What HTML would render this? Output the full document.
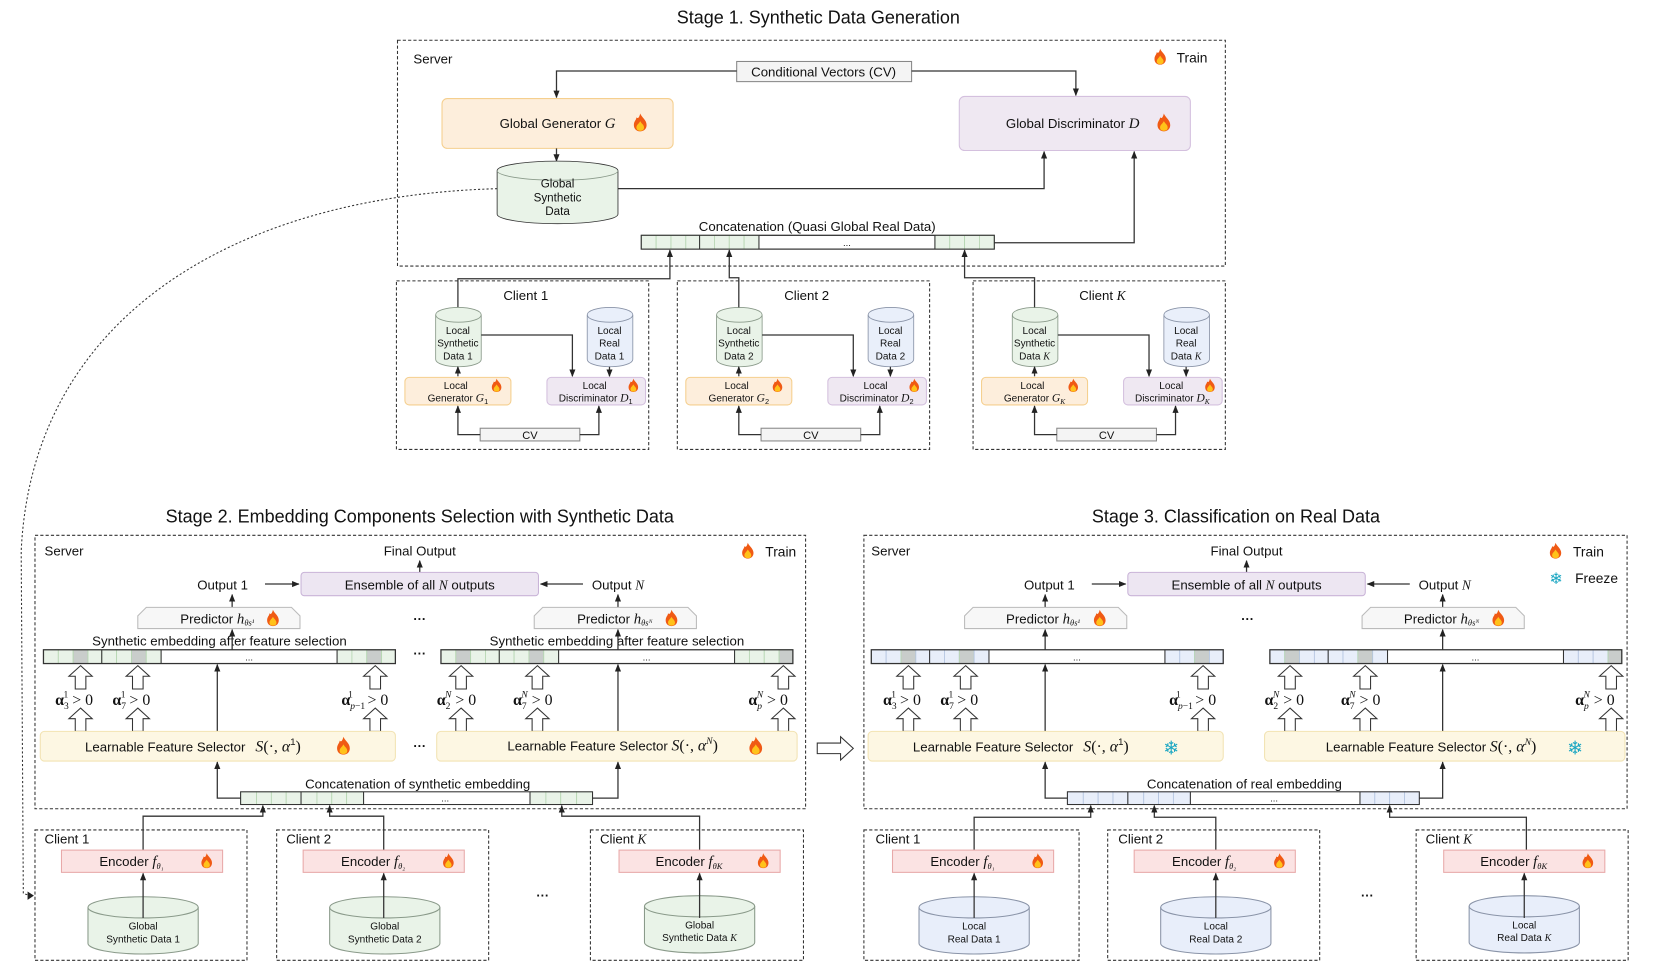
<!DOCTYPE html>
<html><head><meta charset="utf-8">
<style>
html,body{margin:0;padding:0;background:#fff;}
svg{display:block;}
text{font-family:"Liberation Sans",sans-serif;fill:#111;}
.t{font-size:17px;text-anchor:middle;}
.l{font-size:12.5px;}
.c{text-anchor:middle;}
.s{font-size:9.5px;}
.m{font-family:"Liberation Serif",serif;font-style:italic;}
.b{fill:none;stroke:#333;stroke-width:1;stroke-dasharray:3,2;}
.ln{fill:none;stroke:#333;stroke-width:1.2;}
.g{fill:#e9f3e8;stroke:#333;stroke-width:.8;}
.gc{fill:#e9f3e8;stroke:#b6d6b2;stroke-width:.8;}
.bc{fill:#e8eefa;stroke:#b4c4e0;stroke-width:.8;}
.gr{fill:#c9cdcb;stroke:#b6d6b2;stroke-width:.8;}
.ha{fill:#fff;stroke:#333;stroke-width:1;}
</style></head><body>
<svg width="1661" height="972" viewBox="0 0 1567 917" preserveAspectRatio="none" xmlns="http://www.w3.org/2000/svg">
<defs>
<marker id="ar" viewBox="0 0 10 10" refX="9" refY="5" markerWidth="6" markerHeight="6" orient="auto-start-reverse"><path d="M0,1 L10,5 L0,9 z" fill="#222"/></marker>
<symbol id="fire" viewBox="0 0 10 14" overflow="visible"><path d="M5,0 C6,3 10,5 10,9 C10,12 8,14 5,14 C2,14 0,12 0,9 C0,6 2,5 2,3 C3,4 4,4 5,0z" fill="#f05a14"/><path d="M5,6 C6,8 8,9 8,11 C8,13 6.5,13.6 5,13.6 C3.5,13.6 2,13 2,11 C2,9 4,8 5,6z" fill="#ffc21a"/></symbol>
<polygon id="ha" points="0,0 11,10 5,10 5,22 -5,22 -5,10 -11,10" class="ha"/>
</defs>

<!-- ================= STAGE 1 ================= -->
<text x="772" y="22" class="t">Stage 1. Synthetic Data Generation</text>
<rect x="375" y="38" width="781" height="213" class="b"/>
<text x="390" y="60" class="l">Server</text>
<use href="#fire" x="1089" y="46" width="11" height="15"/>
<text x="1110" y="59" class="l" style="font-size:13px">Train</text>
<rect x="695" y="58" width="165" height="19" fill="#f4f4f4" stroke="#888"/>
<text x="777" y="72" class="l c" fill="#333">Conditional Vectors (CV)</text>
<path d="M695,67 H525 V92" class="ln" marker-end="url(#ar)"/>
<path d="M860,67 H1015 V90" class="ln" marker-end="url(#ar)"/>
<rect x="417" y="93" width="218" height="47" rx="5" fill="#fdeedc" stroke="#f5cf8e"/>
<text x="526" y="121" class="l c">Global Generator <tspan class="m" font-size="14">G</tspan></text>
<use href="#fire" x="598" y="107" width="12" height="17"/>
<rect x="905" y="91" width="218" height="51" rx="5" fill="#efe8f2" stroke="#d4c0de"/>
<text x="1012" y="121" class="l c">Global Discriminator <tspan class="m" font-size="14">D</tspan></text>
<use href="#fire" x="1092" y="107" width="12" height="17"/>
<path d="M525,140 V152" class="ln" marker-end="url(#ar)"/>
<path d="M469,161 a57,9 0 0 1 114,0 v41 a57,9 0 0 1 -114,0z" class="g" stroke="#8a9a8a"/>
<path d="M469,161 a57,9 0 0 0 114,0" fill="none" stroke="#8a9a8a" stroke-width=".8"/>
<text x="526" y="177" class="c" font-size="11">Global</text>
<text x="526" y="190" class="c" font-size="11">Synthetic</text>
<text x="526" y="203" class="c" font-size="11">Data</text>
<path d="M583,178 H985 V143" class="ln" marker-end="url(#ar)"/>
<text x="771" y="218" class="l c">Concatenation (Quasi Global Real Data)</text>
<g>
<rect x="605" y="222" width="333" height="13" fill="#fff" stroke="#333"/>
<rect x="605" y="222" width="14" height="13" class="gc"/><rect x="619" y="222" width="14" height="13" class="gc"/><rect x="633" y="222" width="14" height="13" class="gc"/><rect x="647" y="222" width="13" height="13" class="gc"/>
<rect x="660" y="222" width="14" height="13" class="gc"/><rect x="674" y="222" width="14" height="13" class="gc"/><rect x="688" y="222" width="14" height="13" class="gc"/><rect x="702" y="222" width="14" height="13" class="gc"/>
<rect x="882" y="222" width="14" height="13" class="gc"/><rect x="896" y="222" width="14" height="13" class="gc"/><rect x="910" y="222" width="14" height="13" class="gc"/><rect x="924" y="222" width="14" height="13" class="gc"/>
<rect x="605" y="222" width="333" height="13" fill="none" stroke="#333"/>
<path d="M660,222 v13 M716,222 v13 M882,222 v13" stroke="#333"/>
<text x="799" y="232" class="c" font-size="9">...</text>
</g>
<path d="M938,229 H1070 V143" class="ln" marker-end="url(#ar)"/>

<!-- Client blocks stage 1 -->
<g id="c1">
<rect x="374" y="265" width="238" height="159" class="b"/>
<path d="M432,290 V263 H632 V236" class="ln" marker-end="url(#ar)"/>
<path d="M411,297 a21.5,7 0 0 1 43,0 v42 a21.5,7 0 0 1 -43,0z" fill="#e9f3e8" stroke="#8a9a8a" stroke-width=".8"/>
<path d="M411,297 a21.5,7 0 0 0 43,0" fill="none" stroke="#8a9a8a" stroke-width=".8"/>
<text x="432" y="315" class="c s">Local</text><text x="432" y="327" class="c s">Synthetic</text><text x="432" y="339" class="c s">Data 1</text>
<path d="M554,297 a21.5,7 0 0 1 43,0 v42 a21.5,7 0 0 1 -43,0z" fill="#e9effa" stroke="#8a94a8" stroke-width=".8"/>
<path d="M554,297 a21.5,7 0 0 0 43,0" fill="none" stroke="#8a94a8" stroke-width=".8"/>
<text x="575" y="315" class="c s">Local</text><text x="575" y="327" class="c s">Real</text><text x="575" y="339" class="c s">Data 1</text>
<path d="M454,316 H540 V355" class="ln" marker-end="url(#ar)"/>
<path d="M575,346 V355" class="ln" marker-end="url(#ar)"/>
<rect x="382" y="356" width="100" height="26" rx="4" fill="#fdeedc" stroke="#f5cf8e"/>
<text x="430" y="367" class="c s">Local</text><text x="432" y="379" class="c s">Generator <tspan class="m" font-size="11">G</tspan><tspan font-size="7" dy="2">1</tspan></text>
<use href="#fire" x="464" y="357" width="9" height="13"/>
<rect x="516" y="356" width="93" height="26" rx="4" fill="#efe8f2" stroke="#d4c0de"/>
<text x="561" y="367" class="c s">Local</text><text x="562" y="379" class="c s">Discriminator <tspan class="m" font-size="11">D</tspan><tspan font-size="7" dy="2">1</tspan></text>
<use href="#fire" x="593" y="357" width="9" height="13"/>
<path d="M432,355 V346" class="ln" marker-end="url(#ar)"/>
<rect x="453" y="404" width="94" height="12" fill="#f4f4f4" stroke="#888"/>
<text x="500" y="414" class="c" font-size="10.5">CV</text>
<path d="M453,410 H432 V383" class="ln" marker-end="url(#ar)"/>
<path d="M547,410 H565 V383" class="ln" marker-end="url(#ar)"/>
<text x="496" y="283" class="l c">Client 1</text>
</g>
<g transform="translate(265,0)">
<rect x="374" y="265" width="238" height="159" class="b"/>
<path d="M411,297 a21.5,7 0 0 1 43,0 v42 a21.5,7 0 0 1 -43,0z" fill="#e9f3e8" stroke="#8a9a8a" stroke-width=".8"/>
<path d="M411,297 a21.5,7 0 0 0 43,0" fill="none" stroke="#8a9a8a" stroke-width=".8"/>
<text x="432" y="315" class="c s">Local</text><text x="432" y="327" class="c s">Synthetic</text><text x="432" y="339" class="c s">Data 2</text>
<path d="M554,297 a21.5,7 0 0 1 43,0 v42 a21.5,7 0 0 1 -43,0z" fill="#e9effa" stroke="#8a94a8" stroke-width=".8"/>
<path d="M554,297 a21.5,7 0 0 0 43,0" fill="none" stroke="#8a94a8" stroke-width=".8"/>
<text x="575" y="315" class="c s">Local</text><text x="575" y="327" class="c s">Real</text><text x="575" y="339" class="c s">Data 2</text>
<path d="M454,316 H540 V355" class="ln" marker-end="url(#ar)"/>
<path d="M575,346 V355" class="ln" marker-end="url(#ar)"/>
<rect x="382" y="356" width="100" height="26" rx="4" fill="#fdeedc" stroke="#f5cf8e"/>
<text x="430" y="367" class="c s">Local</text><text x="432" y="379" class="c s">Generator <tspan class="m" font-size="11">G</tspan><tspan font-size="7" dy="2">2</tspan></text>
<use href="#fire" x="464" y="357" width="9" height="13"/>
<rect x="516" y="356" width="93" height="26" rx="4" fill="#efe8f2" stroke="#d4c0de"/>
<text x="561" y="367" class="c s">Local</text><text x="562" y="379" class="c s">Discriminator <tspan class="m" font-size="11">D</tspan><tspan font-size="7" dy="2">2</tspan></text>
<use href="#fire" x="593" y="357" width="9" height="13"/>
<path d="M432,355 V346" class="ln" marker-end="url(#ar)"/>
<rect x="453" y="404" width="94" height="12" fill="#f4f4f4" stroke="#888"/>
<text x="500" y="414" class="c" font-size="10.5">CV</text>
<path d="M453,410 H432 V383" class="ln" marker-end="url(#ar)"/>
<path d="M547,410 H565 V383" class="ln" marker-end="url(#ar)"/>
<text x="496" y="283" class="l c">Client 2</text>
</g>
<path d="M697,290 V262 H688 V236" class="ln" marker-end="url(#ar)"/>
<g transform="translate(544,0)">
<rect x="374" y="265" width="238" height="159" class="b"/>
<path d="M411,297 a21.5,7 0 0 1 43,0 v42 a21.5,7 0 0 1 -43,0z" fill="#e9f3e8" stroke="#8a9a8a" stroke-width=".8"/>
<path d="M411,297 a21.5,7 0 0 0 43,0" fill="none" stroke="#8a9a8a" stroke-width=".8"/>
<text x="432" y="315" class="c s">Local</text><text x="432" y="327" class="c s">Synthetic</text><text x="432" y="339" class="c s">Data <tspan class="m">K</tspan></text>
<path d="M554,297 a21.5,7 0 0 1 43,0 v42 a21.5,7 0 0 1 -43,0z" fill="#e9effa" stroke="#8a94a8" stroke-width=".8"/>
<path d="M554,297 a21.5,7 0 0 0 43,0" fill="none" stroke="#8a94a8" stroke-width=".8"/>
<text x="575" y="315" class="c s">Local</text><text x="575" y="327" class="c s">Real</text><text x="575" y="339" class="c s">Data <tspan class="m">K</tspan></text>
<path d="M454,316 H540 V355" class="ln" marker-end="url(#ar)"/>
<path d="M575,346 V355" class="ln" marker-end="url(#ar)"/>
<rect x="382" y="356" width="100" height="26" rx="4" fill="#fdeedc" stroke="#f5cf8e"/>
<text x="430" y="367" class="c s">Local</text><text x="432" y="379" class="c s">Generator <tspan class="m" font-size="11">G</tspan><tspan class="m" font-size="7" dy="2">K</tspan></text>
<use href="#fire" x="464" y="357" width="9" height="13"/>
<rect x="516" y="356" width="93" height="26" rx="4" fill="#efe8f2" stroke="#d4c0de"/>
<text x="561" y="367" class="c s">Local</text><text x="562" y="379" class="c s">Discriminator <tspan class="m" font-size="11">D</tspan><tspan class="m" font-size="7" dy="2">K</tspan></text>
<use href="#fire" x="593" y="357" width="9" height="13"/>
<path d="M432,355 V346" class="ln" marker-end="url(#ar)"/>
<rect x="453" y="404" width="94" height="12" fill="#f4f4f4" stroke="#888"/>
<text x="500" y="414" class="c" font-size="10.5">CV</text>
<path d="M453,410 H432 V383" class="ln" marker-end="url(#ar)"/>
<path d="M547,410 H565 V383" class="ln" marker-end="url(#ar)"/>
<text x="496" y="283" class="l c">Client <tspan class="m">K</tspan></text>
</g>
<path d="M976,290 V262 H910 V236" class="ln" marker-end="url(#ar)"/>

<!-- dotted curve -->
<path d="M469,178 C220,185 30,300 20,520 L22,843 L29,845" fill="none" stroke="#333" stroke-width="1" stroke-dasharray="2,2"/>
<path d="M26,841 L32,845 L26,849z" fill="#222"/>

<!-- ================= STAGE 2 ================= -->
<text x="396" y="493" class="t">Stage 2. Embedding Components Selection with Synthetic Data</text>
<rect x="33" y="505" width="727" height="258" class="b"/>
<text x="42" y="524" class="l">Server</text>
<use href="#fire" x="700" y="512" width="11" height="15"/>
<text x="722" y="525" class="l" style="font-size:13px">Train</text>
<text x="396" y="524" class="l c">Final Output</text>
<path d="M396,540 V529" class="ln" marker-end="url(#ar)"/>
<rect x="284" y="540" width="224" height="22" rx="3" fill="#ede6f2" stroke="#c9b4d8"/>
<text x="396" y="556" class="l c">Ensemble of all <tspan class="m">N</tspan> outputs</text>
<text x="210" y="556" class="l c">Output 1</text>
<path d="M250,551 H282" class="ln" marker-end="url(#ar)"/>
<text x="583" y="556" class="l c">Output <tspan class="m">N</tspan></text>
<path d="M550,551 H510" class="ln" marker-end="url(#ar)"/>
<path d="M219,573 V561" class="ln" marker-end="url(#ar)"/>
<path d="M583,573 V561" class="ln" marker-end="url(#ar)"/>
<path d="M138,573 H275 L283,581 V593 H130 V581z" fill="#f7f7f7" stroke="#bbb"/>
<text x="205" y="588" class="l c">Predictor <tspan class="m" font-size="14">h</tspan><tspan class="m" font-size="8" dy="2">θs¹</tspan></text>
<use href="#fire" x="252" y="575" width="11" height="16"/>
<path d="M512,573 H649 L657,581 V593 H504 V581z" fill="#f7f7f7" stroke="#bbb"/>
<text x="580" y="588" class="l c">Predictor <tspan class="m" font-size="14">h</tspan><tspan class="m" font-size="8" dy="2">θsᴺ</tspan></text>
<use href="#fire" x="628" y="575" width="11" height="16"/>
<text x="396" y="588" class="c" font-weight="bold" font-size="12">···</text>
<text x="207" y="609" class="l c">Synthetic embedding after feature selection</text>
<text x="582" y="609" class="l c">Synthetic embedding after feature selection</text>
<g>
<rect x="41" y="613" width="332" height="13" fill="#fff"/>
<rect x="41" y="613" width="14" height="13" class="gc"/><rect x="55" y="613" width="14" height="13" class="gc"/><rect x="69" y="613" width="14" height="13" class="gr"/><rect x="83" y="613" width="13" height="13" class="gc"/>
<rect x="96" y="613" width="14" height="13" class="gc"/><rect x="110" y="613" width="14" height="13" class="gc"/><rect x="124" y="613" width="14" height="13" class="gr"/><rect x="138" y="613" width="14" height="13" class="gc"/>
<rect x="318" y="613" width="14" height="13" class="gc"/><rect x="332" y="613" width="14" height="13" class="gc"/><rect x="346" y="613" width="14" height="13" class="gr"/><rect x="360" y="613" width="13" height="13" class="gc"/>
<rect x="41" y="613" width="332" height="13" fill="none" stroke="#333" stroke-width="1.2"/>
<path d="M96,613 v13 M152,613 v13 M318,613 v13" stroke="#333"/>
<text x="235" y="623" class="c" font-size="9">...</text>
</g>
<g>
<rect x="416" y="613" width="332" height="13" fill="#fff"/>
<rect x="416" y="613" width="14" height="13" class="gc"/><rect x="430" y="613" width="14" height="13" class="gr"/><rect x="444" y="613" width="14" height="13" class="gc"/><rect x="458" y="613" width="13" height="13" class="gc"/>
<rect x="471" y="613" width="14" height="13" class="gc"/><rect x="485" y="613" width="14" height="13" class="gc"/><rect x="499" y="613" width="14" height="13" class="gr"/><rect x="513" y="613" width="14" height="13" class="gc"/>
<rect x="693" y="613" width="14" height="13" class="gc"/><rect x="707" y="613" width="14" height="13" class="gc"/><rect x="721" y="613" width="14" height="13" class="gc"/><rect x="735" y="613" width="13" height="13" class="gr"/>
<rect x="416" y="613" width="332" height="13" fill="none" stroke="#333" stroke-width="1.2"/>
<path d="M471,613 v13 M527,613 v13 M693,613 v13" stroke="#333"/>
<text x="610" y="623" class="c" font-size="9">...</text>
</g>
<text x="396" y="621" class="c" font-weight="bold" font-size="12">···</text>
<path d="M219,613 V594" class="ln" marker-end="url(#ar)"/>
<path d="M583,613 V594" class="ln" marker-end="url(#ar)"/>
<path d="M205,690 V627" class="ln" marker-end="url(#ar)"/>
<path d="M583,690 V627" class="ln" marker-end="url(#ar)"/>
<use href="#ha" x="76" y="628"/><use href="#ha" x="76" y="668"/>
<use href="#ha" x="130" y="628"/><use href="#ha" x="130" y="668"/>
<use href="#ha" x="354" y="628"/><use href="#ha" x="354" y="668"/>
<use href="#ha" x="435" y="628"/><use href="#ha" x="435" y="668"/>
<use href="#ha" x="507" y="628"/><use href="#ha" x="507" y="668"/>
<use href="#ha" x="739" y="628"/><use href="#ha" x="739" y="668"/>
<g font-size="15">
<text x="52" y="665" style="font-family:'Liberation Serif',serif"><tspan font-weight="bold">α</tspan><tspan font-size="9" dy="4">3</tspan><tspan font-size="9" dx="-5" dy="-11">1</tspan><tspan dy="7"> &gt; 0</tspan></text>
<text x="106" y="665" style="font-family:'Liberation Serif',serif"><tspan font-weight="bold">α</tspan><tspan font-size="9" dy="4">7</tspan><tspan font-size="9" dx="-5" dy="-11">1</tspan><tspan dy="7"> &gt; 0</tspan></text>
<text x="322" y="665" style="font-family:'Liberation Serif',serif"><tspan font-weight="bold">α</tspan><tspan font-size="9" dy="4" font-style="italic">p</tspan><tspan font-size="9" dy="0">−1</tspan><tspan font-size="9" dx="-16" dy="-11">1</tspan><tspan dx="10" dy="7"> &gt; 0</tspan></text>
<text x="412" y="665" style="font-family:'Liberation Serif',serif"><tspan font-weight="bold">α</tspan><tspan font-size="9" dy="4">2</tspan><tspan font-size="9" dx="-5" dy="-11" font-style="italic">N</tspan><tspan dy="7"> &gt; 0</tspan></text>
<text x="484" y="665" style="font-family:'Liberation Serif',serif"><tspan font-weight="bold">α</tspan><tspan font-size="9" dy="4">7</tspan><tspan font-size="9" dx="-5" dy="-11" font-style="italic">N</tspan><tspan dy="7"> &gt; 0</tspan></text>
<text x="706" y="665" style="font-family:'Liberation Serif',serif"><tspan font-weight="bold">α</tspan><tspan font-size="9" dy="4" font-style="italic">p</tspan><tspan font-size="9" dx="-5" dy="-11" font-style="italic">N</tspan><tspan dy="7"> &gt; 0</tspan></text>
</g>
<rect x="38" y="690" width="335" height="28" rx="4" fill="#fdf7e3" stroke="#f2e3b3"/>
<text x="182" y="709" class="l c">Learnable Feature Selector <tspan class="m" font-size="15" dx="6">S</tspan><tspan font-family="Liberation Serif,serif" font-size="15">(·, </tspan><tspan class="m" font-size="15">α</tspan><tspan font-size="9" dy="-6">1</tspan><tspan font-family="Liberation Serif,serif" font-size="15" dy="6">)</tspan></text>
<use href="#fire" x="318" y="695" width="12" height="17"/>
<text x="396" y="708" class="c" font-weight="bold" font-size="12">···</text>
<rect x="412" y="690" width="340" height="28" rx="4" fill="#fdf7e3" stroke="#f2e3b3"/>
<text x="578" y="708" class="l c">Learnable Feature Selector <tspan class="m" font-size="15">S</tspan><tspan font-family="Liberation Serif,serif" font-size="15">(·, </tspan><tspan class="m" font-size="15">α</tspan><tspan class="m" font-size="9" dy="-6">N</tspan><tspan font-family="Liberation Serif,serif" font-size="15" dy="6">)</tspan></text>
<use href="#fire" x="707" y="695" width="12" height="17"/>
<text x="394" y="744" class="l c">Concatenation of synthetic embedding</text>
<g>
<rect x="227" y="747" width="332" height="12" fill="#fff"/>
<rect x="227" y="747" width="15" height="12" class="gc"/><rect x="242" y="747" width="14" height="12" class="gc"/><rect x="256" y="747" width="14" height="12" class="gc"/><rect x="270" y="747" width="14" height="12" class="gc"/>
<rect x="284" y="747" width="15" height="12" class="gc"/><rect x="299" y="747" width="14" height="12" class="gc"/><rect x="313" y="747" width="14" height="12" class="gc"/><rect x="327" y="747" width="16" height="12" class="gc"/>
<rect x="500" y="747" width="15" height="12" class="gc"/><rect x="515" y="747" width="14" height="12" class="gc"/><rect x="529" y="747" width="15" height="12" class="gc"/><rect x="544" y="747" width="15" height="12" class="gc"/>
<rect x="227" y="747" width="332" height="12" fill="none" stroke="#333"/>
<path d="M284,747 v12 M343,747 v12 M500,747 v12" stroke="#333"/>
<text x="420" y="756" class="c" font-size="9">...</text>
</g>
<path d="M227,753 H205 V719" class="ln" marker-end="url(#ar)"/>
<path d="M559,753 H583 V719" class="ln" marker-end="url(#ar)"/>
<rect x="33" y="783" width="200" height="123" class="b"/>
<rect x="261" y="783" width="200" height="123" class="b"/>
<rect x="557" y="783" width="201" height="123" class="b"/>
<text x="42" y="796" class="l">Client 1</text>
<text x="270" y="796" class="l">Client 2</text>
<text x="566" y="796" class="l">Client <tspan class="m">K</tspan></text>
<path d="M135,802 V770 H248 V760" class="ln" marker-end="url(#ar)"/>
<path d="M362,802 V770 H311 V760" class="ln" marker-end="url(#ar)"/>
<path d="M660,802 V770 H530 V760" class="ln" marker-end="url(#ar)"/>
<rect x="58" y="802" width="152" height="21" fill="#fbe3e3" stroke="#e8a9a9"/>
<text x="124" y="817" class="l c">Encoder  <tspan class="m" font-size="14">f</tspan><tspan class="m" font-size="8" dy="3">θ₁</tspan></text>
<use href="#fire" x="190" y="805" width="10" height="14"/>
<rect x="286" y="802" width="152" height="21" fill="#fbe3e3" stroke="#e8a9a9"/>
<text x="352" y="817" class="l c">Encoder  <tspan class="m" font-size="14">f</tspan><tspan class="m" font-size="8" dy="3">θ₂</tspan></text>
<use href="#fire" x="418" y="805" width="10" height="14"/>
<rect x="584" y="802" width="152" height="21" fill="#fbe3e3" stroke="#e8a9a9"/>
<text x="650" y="817" class="l c">Encoder  <tspan class="m" font-size="14">f</tspan><tspan class="m" font-size="8" dy="3">θK</tspan></text>
<use href="#fire" x="715" y="805" width="10" height="14"/>
<text x="512" y="849" class="c" font-weight="bold" font-size="12">···</text>
<g>
<path d="M83,856 a52,10 0 0 1 104,0 v34 a52,10 0 0 1 -104,0z" fill="#e9f3e8" stroke="#8a9a8a"/>
<path d="M83,856 a52,10 0 0 0 104,0" fill="none" stroke="#8a9a8a"/>
<text x="135" y="877" class="c s">Global</text><text x="135" y="889" class="c s">Synthetic Data 1</text>
<path d="M311,856 a52,10 0 0 1 104,0 v34 a52,10 0 0 1 -104,0z" fill="#e9f3e8" stroke="#8a9a8a"/>
<path d="M311,856 a52,10 0 0 0 104,0" fill="none" stroke="#8a9a8a"/>
<text x="363" y="877" class="c s">Global</text><text x="363" y="889" class="c s">Synthetic Data 2</text>
<path d="M608,855 a52,10 0 0 1 104,0 v34 a52,10 0 0 1 -104,0z" fill="#e9f3e8" stroke="#8a9a8a"/>
<path d="M608,855 a52,10 0 0 0 104,0" fill="none" stroke="#8a9a8a"/>
<text x="660" y="876" class="c s">Global</text><text x="660" y="888" class="c s">Synthetic Data <tspan class="m">K</tspan></text>
</g>
<path d="M135,866 V824" class="ln" marker-end="url(#ar)"/>
<path d="M362,866 V824" class="ln" marker-end="url(#ar)"/>
<path d="M660,866 V824" class="ln" marker-end="url(#ar)"/>

<polygon points="771,701 793,701 793,695 805,706 793,717 793,711 771,711" class="ha"/>

<!-- ================= STAGE 3 ================= -->
<text x="1166" y="493" class="t">Stage 3. Classification on Real Data</text>
<rect x="815" y="505" width="720" height="258" class="b"/>
<text x="822" y="524" class="l">Server</text>
<use href="#fire" x="1462" y="512" width="11" height="15"/>
<text x="1484" y="525" class="l" style="font-size:13px">Train</text>
<text x="1468" y="551" class="c" font-size="15" style="fill:#1aa6c2">❄</text>
<text x="1486" y="550" class="l" style="font-size:13px">Freeze</text>
<text x="1176" y="524" class="l c">Final Output</text>
<path d="M1176,540 V529" class="ln" marker-end="url(#ar)"/>
<rect x="1064" y="540" width="224" height="22" rx="3" fill="#ede6f2" stroke="#c9b4d8"/>
<text x="1176" y="556" class="l c">Ensemble of all <tspan class="m">N</tspan> outputs</text>
<text x="990" y="556" class="l c">Output 1</text>
<path d="M1030,551 H1062" class="ln" marker-end="url(#ar)"/>
<text x="1363" y="556" class="l c">Output <tspan class="m">N</tspan></text>
<path d="M1330,551 H1290" class="ln" marker-end="url(#ar)"/>
<path d="M986,573 V561" class="ln" marker-end="url(#ar)"/>
<path d="M1361,573 V561" class="ln" marker-end="url(#ar)"/>
<path d="M918,573 H1055 L1063,581 V593 H910 V581z" fill="#f7f7f7" stroke="#bbb"/>
<text x="984" y="588" class="l c">Predictor <tspan class="m" font-size="14">h</tspan><tspan class="m" font-size="8" dy="2">θs¹</tspan></text>
<use href="#fire" x="1032" y="575" width="11" height="16"/>
<path d="M1293,573 H1430 L1438,581 V593 H1285 V581z" fill="#f7f7f7" stroke="#bbb"/>
<text x="1360" y="588" class="l c">Predictor <tspan class="m" font-size="14">h</tspan><tspan class="m" font-size="8" dy="2">θsᴺ</tspan></text>
<use href="#fire" x="1408" y="575" width="11" height="16"/>
<text x="1177" y="588" class="c" font-weight="bold" font-size="12">···</text>
<g>
<rect x="822" y="613" width="332" height="13" fill="#fff"/>
<rect x="822" y="613" width="14" height="13" class="bc"/><rect x="836" y="613" width="14" height="13" class="bc"/><rect x="850" y="613" width="14" height="13" class="gr" stroke="#b4c4e0"/><rect x="864" y="613" width="13" height="13" class="bc"/>
<rect x="877" y="613" width="14" height="13" class="bc"/><rect x="891" y="613" width="14" height="13" class="bc"/><rect x="905" y="613" width="14" height="13" class="gr"/><rect x="919" y="613" width="14" height="13" class="bc"/>
<rect x="1099" y="613" width="14" height="13" class="bc"/><rect x="1113" y="613" width="14" height="13" class="bc"/><rect x="1127" y="613" width="14" height="13" class="gr"/><rect x="1141" y="613" width="13" height="13" class="bc"/>
<rect x="822" y="613" width="332" height="13" fill="none" stroke="#333" stroke-width="1.2"/>
<path d="M877,613 v13 M933,613 v13 M1099,613 v13" stroke="#333"/>
<text x="1016" y="623" class="c" font-size="9">...</text>
</g>
<g>
<rect x="1198" y="613" width="332" height="13" fill="#fff"/>
<rect x="1198" y="613" width="14" height="13" class="bc"/><rect x="1212" y="613" width="14" height="13" class="gr"/><rect x="1226" y="613" width="14" height="13" class="bc"/><rect x="1240" y="613" width="13" height="13" class="bc"/>
<rect x="1253" y="613" width="14" height="13" class="bc"/><rect x="1267" y="613" width="14" height="13" class="bc"/><rect x="1281" y="613" width="14" height="13" class="gr"/><rect x="1295" y="613" width="14" height="13" class="bc"/>
<rect x="1475" y="613" width="14" height="13" class="bc"/><rect x="1489" y="613" width="14" height="13" class="bc"/><rect x="1503" y="613" width="14" height="13" class="bc"/><rect x="1517" y="613" width="13" height="13" class="gr"/>
<rect x="1198" y="613" width="332" height="13" fill="none" stroke="#333" stroke-width="1.2"/>
<path d="M1253,613 v13 M1309,613 v13 M1475,613 v13" stroke="#333"/>
<text x="1392" y="623" class="c" font-size="9">...</text>
</g>
<path d="M986,613 V594" class="ln" marker-end="url(#ar)"/>
<path d="M1361,613 V594" class="ln" marker-end="url(#ar)"/>
<path d="M986,690 V627" class="ln" marker-end="url(#ar)"/>
<path d="M1361,690 V627" class="ln" marker-end="url(#ar)"/>
<use href="#ha" x="857" y="628"/><use href="#ha" x="857" y="668"/>
<use href="#ha" x="911" y="628"/><use href="#ha" x="911" y="668"/>
<use href="#ha" x="1135" y="628"/><use href="#ha" x="1135" y="668"/>
<use href="#ha" x="1217" y="628"/><use href="#ha" x="1217" y="668"/>
<use href="#ha" x="1288" y="628"/><use href="#ha" x="1288" y="668"/>
<use href="#ha" x="1520" y="628"/><use href="#ha" x="1520" y="668"/>
<g font-size="15">
<text x="833" y="665" style="font-family:'Liberation Serif',serif"><tspan font-weight="bold">α</tspan><tspan font-size="9" dy="4">3</tspan><tspan font-size="9" dx="-5" dy="-11">1</tspan><tspan dy="7"> &gt; 0</tspan></text>
<text x="887" y="665" style="font-family:'Liberation Serif',serif"><tspan font-weight="bold">α</tspan><tspan font-size="9" dy="4">7</tspan><tspan font-size="9" dx="-5" dy="-11">1</tspan><tspan dy="7"> &gt; 0</tspan></text>
<text x="1103" y="665" style="font-family:'Liberation Serif',serif"><tspan font-weight="bold">α</tspan><tspan font-size="9" dy="4" font-style="italic">p</tspan><tspan font-size="9">−1</tspan><tspan font-size="9" dx="-16" dy="-11">1</tspan><tspan dx="10" dy="7"> &gt; 0</tspan></text>
<text x="1193" y="665" style="font-family:'Liberation Serif',serif"><tspan font-weight="bold">α</tspan><tspan font-size="9" dy="4">2</tspan><tspan font-size="9" dx="-5" dy="-11" font-style="italic">N</tspan><tspan dy="7"> &gt; 0</tspan></text>
<text x="1265" y="665" style="font-family:'Liberation Serif',serif"><tspan font-weight="bold">α</tspan><tspan font-size="9" dy="4">7</tspan><tspan font-size="9" dx="-5" dy="-11" font-style="italic">N</tspan><tspan dy="7"> &gt; 0</tspan></text>
<text x="1486" y="665" style="font-family:'Liberation Serif',serif"><tspan font-weight="bold">α</tspan><tspan font-size="9" dy="4" font-style="italic">p</tspan><tspan font-size="9" dx="-5" dy="-11" font-style="italic">N</tspan><tspan dy="7"> &gt; 0</tspan></text>
</g>
<rect x="819" y="690" width="335" height="28" rx="4" fill="#fdf7e3" stroke="#f2e3b3"/>
<text x="963" y="709" class="l c">Learnable Feature Selector <tspan class="m" font-size="15" dx="6">S</tspan><tspan font-family="Liberation Serif,serif" font-size="15">(·, </tspan><tspan class="m" font-size="15">α</tspan><tspan font-size="9" dy="-6">1</tspan><tspan font-family="Liberation Serif,serif" font-size="15" dy="6">)</tspan></text>
<text x="1105" y="712" class="c" font-size="18" style="fill:#1aa6c2">❄</text>
<rect x="1193" y="690" width="340" height="28" rx="4" fill="#fdf7e3" stroke="#f2e3b3"/>
<text x="1350" y="709" class="l c">Learnable Feature Selector <tspan class="m" font-size="15">S</tspan><tspan font-family="Liberation Serif,serif" font-size="15">(·, </tspan><tspan class="m" font-size="15">α</tspan><tspan class="m" font-size="9" dy="-6">N</tspan><tspan font-family="Liberation Serif,serif" font-size="15" dy="6">)</tspan></text>
<text x="1486" y="712" class="c" font-size="18" style="fill:#1aa6c2">❄</text>
<text x="1174" y="744" class="l c">Concatenation of real embedding</text>
<g>
<rect x="1007" y="747" width="332" height="12" fill="#fff"/>
<rect x="1007" y="747" width="15" height="12" class="bc"/><rect x="1022" y="747" width="14" height="12" class="bc"/><rect x="1036" y="747" width="14" height="12" class="bc"/><rect x="1050" y="747" width="14" height="12" class="bc"/>
<rect x="1064" y="747" width="15" height="12" class="bc"/><rect x="1079" y="747" width="14" height="12" class="bc"/><rect x="1093" y="747" width="14" height="12" class="bc"/><rect x="1107" y="747" width="16" height="12" class="bc"/>
<rect x="1283" y="747" width="14" height="12" class="bc"/><rect x="1297" y="747" width="14" height="12" class="bc"/><rect x="1311" y="747" width="14" height="12" class="bc"/><rect x="1325" y="747" width="14" height="12" class="bc"/>
<rect x="1007" y="747" width="332" height="12" fill="none" stroke="#333"/>
<path d="M1064,747 v12 M1123,747 v12 M1283,747 v12" stroke="#333"/>
<text x="1202" y="756" class="c" font-size="9">...</text>
</g>
<path d="M1007,753 H986 V719" class="ln" marker-end="url(#ar)"/>
<path d="M1339,753 H1361 V719" class="ln" marker-end="url(#ar)"/>
<rect x="815" y="783" width="203" height="123" class="b"/>
<rect x="1045" y="783" width="200" height="123" class="b"/>
<rect x="1336" y="783" width="200" height="123" class="b"/>
<text x="826" y="796" class="l">Client 1</text>
<text x="1055" y="796" class="l">Client 2</text>
<text x="1345" y="796" class="l">Client <tspan class="m">K</tspan></text>
<path d="M919,802 V771 H1029 V760" class="ln" marker-end="url(#ar)"/>
<path d="M1147,802 V771 H1089 V760" class="ln" marker-end="url(#ar)"/>
<path d="M1440,802 V771 H1311 V760" class="ln" marker-end="url(#ar)"/>
<rect x="842" y="802" width="152" height="21" fill="#fbe3e3" stroke="#e8a9a9"/>
<text x="908" y="817" class="l c">Encoder  <tspan class="m" font-size="14">f</tspan><tspan class="m" font-size="8" dy="3">θ₁</tspan></text>
<use href="#fire" x="974" y="805" width="10" height="14"/>
<rect x="1070" y="802" width="152" height="21" fill="#fbe3e3" stroke="#e8a9a9"/>
<text x="1136" y="817" class="l c">Encoder  <tspan class="m" font-size="14">f</tspan><tspan class="m" font-size="8" dy="3">θ₂</tspan></text>
<use href="#fire" x="1202" y="805" width="10" height="14"/>
<rect x="1362" y="802" width="152" height="21" fill="#fbe3e3" stroke="#e8a9a9"/>
<text x="1428" y="817" class="l c">Encoder  <tspan class="m" font-size="14">f</tspan><tspan class="m" font-size="8" dy="3">θK</tspan></text>
<use href="#fire" x="1493" y="805" width="10" height="14"/>
<text x="1290" y="849" class="c" font-weight="bold" font-size="12">···</text>
<path d="M867,856 a52,10 0 0 1 104,0 v34 a52,10 0 0 1 -104,0z" fill="#e8eefa" stroke="#8a94a8"/>
<path d="M867,856 a52,10 0 0 0 104,0" fill="none" stroke="#8a94a8"/>
<text x="919" y="877" class="c s">Local</text><text x="919" y="889" class="c s">Real Data 1</text>
<path d="M1095,856 a52,10 0 0 1 104,0 v34 a52,10 0 0 1 -104,0z" fill="#e8eefa" stroke="#8a94a8"/>
<path d="M1095,856 a52,10 0 0 0 104,0" fill="none" stroke="#8a94a8"/>
<text x="1147" y="877" class="c s">Local</text><text x="1147" y="889" class="c s">Real Data 2</text>
<path d="M1386,855 a52,10 0 0 1 104,0 v34 a52,10 0 0 1 -104,0z" fill="#e8eefa" stroke="#8a94a8"/>
<path d="M1386,855 a52,10 0 0 0 104,0" fill="none" stroke="#8a94a8"/>
<text x="1438" y="876" class="c s">Local</text><text x="1438" y="888" class="c s">Real Data <tspan class="m">K</tspan></text>
<path d="M919,866 V824" class="ln" marker-end="url(#ar)"/>
<path d="M1147,866 V824" class="ln" marker-end="url(#ar)"/>
<path d="M1438,866 V824" class="ln" marker-end="url(#ar)"/>
</svg>
</body></html>
